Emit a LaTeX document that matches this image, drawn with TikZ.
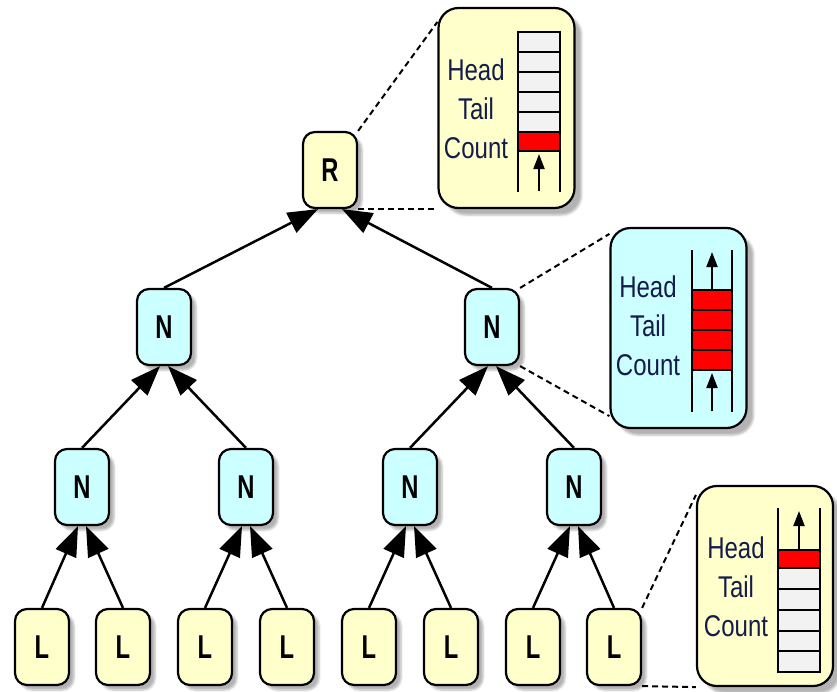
\documentclass[tikz,border=0pt]{standalone}
\usepackage{fontspec}
\setmainfont{Liberation Sans}
\newfontfamily\narrowfont[FakeStretch=0.8]{Liberation Sans}
\newfontfamily\narrowboldfont[FakeStretch=0.72]{Liberation Sans Bold}
\usetikzlibrary{arrows.meta,shadows.blur,calc}
\definecolor{lyellow}{RGB}{255,255,204}
\definecolor{lcyan}{RGB}{204,255,255}
\definecolor{txtblue}{RGB}{20,28,75}
\definecolor{qred}{RGB}{255,0,0}
\definecolor{qwhite}{RGB}{242,242,242}
\begin{document}
\begin{tikzpicture}[x=1pt,y=-1pt,
 tnode/.style={draw=black,line width=2.2pt,rounded corners=12pt,minimum width=54pt,minimum height=76pt,inner sep=0pt,font=\narrowboldfont\fontsize{33}{33}\selectfont,blur shadow={shadow xshift=5pt,shadow yshift=-5pt,shadow opacity=30}},
 ynode/.style={tnode,fill=lyellow},
 cnode/.style={tnode,fill=lcyan},
 callout/.style={draw=black,line width=2.2pt,rounded corners=20pt,minimum width=136pt,minimum height=200pt,inner sep=0pt,blur shadow={shadow xshift=7pt,shadow yshift=-7pt,shadow opacity=30}},
 lbl/.style={align=center,text=txtblue,font=\narrowfont\fontsize{30}{39}\selectfont},
 edge/.style={line width=2.5pt,-{Triangle[length=30pt,width=22pt]}},
 dashline/.style={line width=2pt,dash pattern=on 6pt off 4pt},
 qline/.style={line width=2pt},
 qarrow/.style={line width=2pt,-{Triangle[length=15pt,width=11pt]}},
 qcell/.style={draw=black,line width=2.2pt}
]
\useasboundingbox (0,0) rectangle (837,691);

% callouts
\node[callout,fill=lyellow] (C1) at (506.5,108) {};
\node[callout,fill=lcyan] (C2) at (678.5,328) {};
\node[callout,fill=lyellow] (C3) at (765,586) {};

\node[lbl] (T1) at (476,109) {Head\\Tail\\Count};
\node[lbl] (T2) at (648,326) {Head\\Tail\\Count};
\node[lbl] (T3) at (736,587) {Head\\Tail\\Count};

% queue 1
\foreach \t in {32,52,72,92,112} \draw[qcell,fill=qwhite] (518,\t) rectangle (560,\t+20);
\draw[qcell,fill=qred] (518,132) rectangle (560,151);
\draw[qline] (518,32) -- (518,192) (560,32) -- (560,192);
\draw[qarrow] (539,191) -- (539,154);

% queue 2
\foreach \t in {290,310,330,350} \draw[qcell,fill=qred] (692,\t) rectangle (732,\t+20);
\draw[qline] (692,250) -- (692,412) (732,250) -- (732,412);
\draw[qarrow] (712,289) -- (712,252);
\draw[qarrow] (712,411) -- (712,373);

% queue 3
\draw[qcell,fill=qred] (778,550) rectangle (820,568);
\foreach \t in {568,589,610,631,651} \draw[qcell,fill=qwhite] (778,\t) rectangle (820,\t+21);
\draw[qline] (778,508) -- (778,672) (820,508) -- (820,672);
\draw[qarrow] (799,549) -- (799,511);

% tree nodes
\node[ynode] (R) at (330,170) {R};
\node[cnode] (N21) at (164,327) {N};
\node[cnode] (N22) at (492,327) {N};
\node[cnode] (N31) at (82,487) {N};
\node[cnode] (N32) at (246,487) {N};
\node[cnode] (N33) at (410,487) {N};
\node[cnode] (N34) at (574,487) {N};
\node[ynode] (L1) at (42,647) {L};
\node[ynode] (L2) at (123,647) {L};
\node[ynode] (L3) at (205,647) {L};
\node[ynode] (L4) at (287,647) {L};
\node[ynode] (L5) at (369,647) {L};
\node[ynode] (L6) at (451,647) {L};
\node[ynode] (L7) at (533,647) {L};
\node[ynode] (L8) at (614,647) {L};

% edges
\draw[edge] (N21.north) -- ([xshift=-12pt]R.south);
\draw[edge] (N22.north) -- ([xshift=12pt]R.south);
\draw[edge] (N31.north) -- ([xshift=-4pt]N21.south);
\draw[edge] (N32.north) -- ([xshift=4pt]N21.south);
\draw[edge] (N33.north) -- ([xshift=-4pt]N22.south);
\draw[edge] (N34.north) -- ([xshift=4pt]N22.south);
\draw[edge] (L1.north) -- ([xshift=-4pt]N31.south);
\draw[edge] (L2.north) -- ([xshift=4pt]N31.south);
\draw[edge] (L3.north) -- ([xshift=-4pt]N32.south);
\draw[edge] (L4.north) -- ([xshift=4pt]N32.south);
\draw[edge] (L5.north) -- ([xshift=-4pt]N33.south);
\draw[edge] (L6.north) -- ([xshift=4pt]N33.south);
\draw[edge] (L7.north) -- ([xshift=-4pt]N34.south);
\draw[edge] (L8.north) -- ([xshift=4pt]N34.south);

% dashed leaders
\draw[dashline] (R.north east) -- ($(C1.north west)+(0,15)$);
\draw[dashline] (R.south east) -- (C1.south west);
\draw[dashline] (N22.north east) -- ($(C2.north west)+(0,7)$);
\draw[dashline] (N22.south east) -- ($(C2.south west)+(0,-13)$);
\draw[dashline] (L8.north east) -- ($(C3.north west)+(0,10)$);
\draw[dashline] (L8.south east) -- (C3.south west);
\end{tikzpicture}
\end{document}
